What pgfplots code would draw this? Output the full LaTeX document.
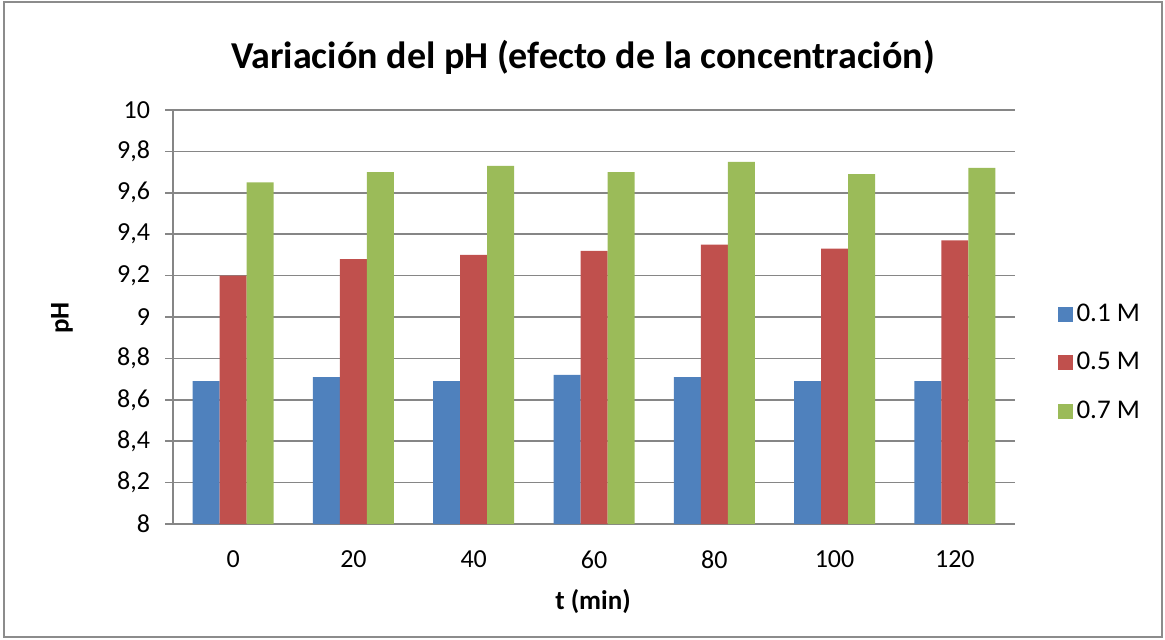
\documentclass[border=0pt]{standalone}
\usepackage{pgfplots}
\pgfplotsset{compat=1.18}
\usepackage{fontspec}
\setmainfont{Carlito}

\definecolor{serA}{HTML}{4F81BD}
\definecolor{serB}{HTML}{C0504D}
\definecolor{serC}{HTML}{9BBB59}
\definecolor{gridgray}{HTML}{868686}
\definecolor{framegray}{HTML}{8C8C8C}

\pgfplotstableread{
t   a     b     c
0   8.69  9.20  9.65
1   8.71  9.28  9.70
2   8.69  9.30  9.73
3   8.72  9.32  9.70
4   8.71  9.35  9.75
5   8.69  9.33  9.69
6   8.69  9.37  9.72
}\phdata

\begin{document}
\begin{tikzpicture}[x=0.5pt,y=0.5pt]
  % canvas and chart frame
  \path[use as bounding box] (0,0) rectangle (1165,639);
  \draw[framegray, line width=0.75pt] (4,2) rectangle (1162,637);

  \node[font=\fontsize{19}{22}\selectfont\bfseries] at (583,582)
    {Variación del pH (efecto de la concentración)};

  \begin{axis}[
    at={(86.5pt,57.5pt)}, anchor=south west,
    scale only axis, width=421pt, height=207pt,
    ybar=0pt, bar width=13.5pt,
    xmin=-0.5, xmax=6.5,
    ymin=8, ymax=10,
    ytick={8,8.2,8.4,8.6,8.8,9,9.2,9.4,9.6,9.8,10},
    xtick={0,...,6},
    xticklabels={0,20,40,60,80,100,120},
    /pgf/number format/use comma,
    /pgf/number format/assume math mode=true,
    tick label style={font=\fontsize{13}{15}\selectfont},
    axis line style={gridgray, line width=0.75pt},
    ymajorgrids, grid style={gridgray, line width=0.75pt},
    axis x line*=bottom, axis y line*=left,
    x axis line style={shorten <=-4pt},
    ytick style={gridgray, line width=0.75pt},
    tick align=outside, major tick length=4pt,
    xtick style={draw=none},
    xticklabel style={yshift=-6pt},
    yticklabel style={xshift=-4pt},
    legend style={at={(rel axis cs:1.05,0.39)}, anchor=west,
      draw=none, fill=none, font=\fontsize{13.5}{15}\selectfont,
      row sep=10pt, inner sep=0pt},
    legend cell align=left,
    legend image code/.code={\fill[#1] (0pt,-3.75pt) rectangle (7.5pt,3.75pt);},
  ]
    \addplot[fill=serA, draw=none] table[x=t, y=a] {\phdata};
    \addplot[fill=serB, draw=none] table[x=t, y=b] {\phdata};
    \addplot[fill=serC, draw=none] table[x=t, y=c] {\phdata};
    \legend{0.1 M, 0.5 M, 0.7 M}
  \end{axis}

  \node[font=\fontsize{13.5}{15}\selectfont\bfseries] at (593,37) {t (min)};
  \node[font=\fontsize{13.5}{15}\selectfont\bfseries, rotate=90] at (62,321) {pH};
\end{tikzpicture}
\end{document}
